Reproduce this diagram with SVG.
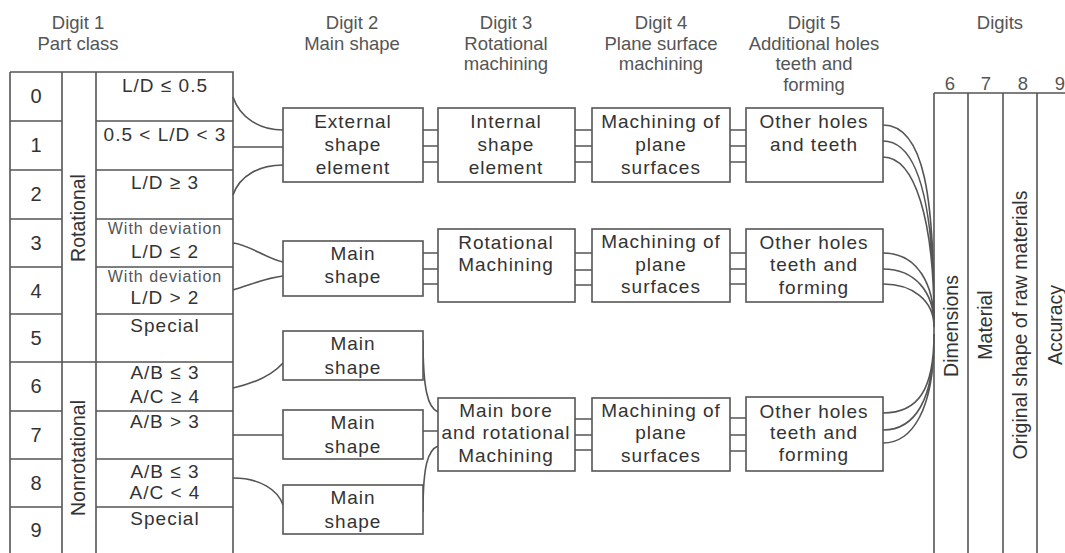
<svg xmlns="http://www.w3.org/2000/svg" width="1065" height="553" viewBox="0 0 1065 553">
<style>
text{font-family:"Liberation Sans",Arial,sans-serif;fill:#333;text-anchor:middle}
.h{font-size:18.5px;fill:#555}
.t{font-size:19px;letter-spacing:1px}
.s{font-size:16px;letter-spacing:1px;fill:#555}
.d{font-size:20px}
.v{font-size:19.5px}
.b{fill:#fff;stroke:#555;stroke-width:1.6}
.l{fill:none;stroke:#555;stroke-width:1.6}
</style>
<rect width="1065" height="553" fill="#fff"/>
<g id="headers">
<text class="h" x="78" y="29">Digit 1</text><text class="h" x="78" y="50">Part class</text>
<text class="h" x="352" y="29">Digit 2</text><text class="h" x="352" y="50">Main shape</text>
<text class="h" x="506" y="29">Digit 3</text><text class="h" x="506" y="50">Rotational</text><text class="h" x="506" y="70">machining</text>
<text class="h" x="661" y="29">Digit 4</text><text class="h" x="661" y="50">Plane surface</text><text class="h" x="661" y="70">machining</text>
<text class="h" x="814" y="29">Digit 5</text><text class="h" x="814" y="50">Additional holes</text><text class="h" x="814" y="70">teeth and</text><text class="h" x="814" y="91">forming</text>
<text class="h" x="1000" y="29">Digits</text>
<text class="h" x="950" y="90">6</text><text class="h" x="986" y="90">7</text><text class="h" x="1023" y="90">8</text><text class="h" x="1060" y="90">9</text>
</g>
<g id="part-class-table">
<path class="l" d="M10,72 H233 V555 M10,72 V555 M62,72 V555 M96,72 V555 M10,121 H62 M10,170 H62 M10,219 H62 M10,267 H62 M10,314 H62 M10,362 H233 M10,411 H62 M10,459 H62 M10,507 H62 M96,121 H233 M96,170 H233 M96,219 H233 M96,267 H233 M96,314 H233 M96,411 H233 M96,459 H233 M96,507 H233"/>
<text class="d" x="36" y="103">0</text><text class="d" x="36" y="152">1</text><text class="d" x="36" y="201">2</text><text class="d" x="36" y="250">3</text><text class="d" x="36" y="298">4</text><text class="d" x="36" y="345">5</text><text class="d" x="36" y="393">6</text><text class="d" x="36" y="442">7</text><text class="d" x="36" y="490">8</text><text class="d" x="36" y="537">9</text>
<text class="v" transform="translate(85,218) rotate(-90)">Rotational</text>
<text class="v" transform="translate(85,458) rotate(-90)">Nonrotational</text>
<text class="t" x="165" y="92">L/D ≤ 0.5</text>
<text class="t" x="165" y="141">0.5 &lt; L/D &lt; 3</text>
<text class="t" x="165" y="189">L/D ≥ 3</text>
<text class="s" x="165" y="234">With deviation</text><text class="t" x="165" y="258">L/D ≤ 2</text>
<text class="s" x="165" y="282">With deviation</text><text class="t" x="165" y="304">L/D &gt; 2</text>
<text class="t" x="165" y="332">Special</text>
<text class="t" x="165" y="379">A/B ≤ 3</text><text class="t" x="165" y="403">A/C ≥ 4</text>
<text class="t" x="165" y="428">A/B &gt; 3</text>
<text class="t" x="165" y="478">A/B ≤ 3</text><text class="t" x="165" y="499">A/C &lt; 4</text>
<text class="t" x="165" y="525">Special</text>
</g>
<g id="connectors">
<path class="l" d="M233,97 C240,118 260,130 283,130 M233,147 H283 M233,195 C240,175 260,165 283,165"/>
<path class="l" d="M233,243 C250,245 265,258 283,262 M233,290 C250,285 265,278 283,276"/>
<path class="l" d="M233,388 C260,382 275,372 283,363 M233,435 H283 M233,478 C260,478 278,490 283,505"/>
<path class="l" d="M423,130 H438 M423,146 H438 M423,162 H438 M575,130 H592 M575,146 H592 M575,162 H592 M730,130 H746 M730,146 H746 M730,162 H746"/>
<path class="l" d="M423,253 H438 M423,269 H438 M423,284 H438 M575,253 H592 M575,270 H592 M575,285 H592 M730,253 H746 M730,269 H746 M730,284 H746"/>
<path class="l" d="M423,340 C423,390 428,408 438,412 M423,431 H438 M423,512 C423,465 428,450 438,446"/>
<path class="l" d="M575,419 H592 M575,435 H592 M575,450 H592 M730,418 H746 M730,435 H746 M730,451 H746"/>
<path class="l" d="M883,125 C925,125 934,200 934,316 M883,141 C920,141 934,210 934,318 M883,157 C915,157 934,220 934,320"/>
<path class="l" d="M883,253 C918,253 934,285 934,323 M883,269 C915,269 934,292 934,325 M883,284 C912,284 934,300 934,327"/>
<path class="l" d="M883,413 C918,413 934,390 934,334 M883,430 C915,430 934,400 934,336 M883,443 C912,443 934,410 934,338"/>
</g>
<g id="n-external"><rect class="b" x="283" y="108" width="140" height="74"/><text class="t" x="353" y="128">External</text><text class="t" x="353" y="151">shape</text><text class="t" x="353" y="174">element</text></g>
<g id="n-main1"><rect class="b" x="283" y="241" width="140" height="55"/><text class="t" x="353" y="260">Main</text><text class="t" x="353" y="283">shape</text></g>
<g id="n-main2"><rect class="b" x="283" y="331" width="140" height="49"/><text class="t" x="353" y="350">Main</text><text class="t" x="353" y="374">shape</text></g>
<g id="n-main3"><rect class="b" x="283" y="410" width="140" height="49"/><text class="t" x="353" y="429">Main</text><text class="t" x="353" y="453">shape</text></g>
<g id="n-main4"><rect class="b" x="283" y="485" width="140" height="49"/><text class="t" x="353" y="504">Main</text><text class="t" x="353" y="528">shape</text></g>
<g id="n-internal"><rect class="b" x="438" y="108" width="137" height="74"/><text class="t" x="506" y="128">Internal</text><text class="t" x="506" y="151">shape</text><text class="t" x="506" y="174">element</text></g>
<g id="n-rotational"><rect class="b" x="438" y="229" width="137" height="73"/><text class="t" x="506" y="249">Rotational</text><text class="t" x="506" y="271">Machining</text></g>
<g id="n-mainbore"><rect class="b" x="438" y="398" width="137" height="73"/><text class="t" x="506" y="417">Main bore</text><text class="t" x="506" y="439">and rotational</text><text class="t" x="506" y="462">Machining</text></g>
<g id="n-plane1"><rect class="b" x="592" y="108" width="138" height="74"/><text class="t" x="661" y="128">Machining of</text><text class="t" x="661" y="151">plane</text><text class="t" x="661" y="174">surfaces</text></g>
<g id="n-plane2"><rect class="b" x="592" y="229" width="138" height="73"/><text class="t" x="661" y="248">Machining of</text><text class="t" x="661" y="271">plane</text><text class="t" x="661" y="293">surfaces</text></g>
<g id="n-plane3"><rect class="b" x="592" y="398" width="138" height="73"/><text class="t" x="661" y="417">Machining of</text><text class="t" x="661" y="439">plane</text><text class="t" x="661" y="462">surfaces</text></g>
<g id="n-holes1"><rect class="b" x="746" y="108" width="137" height="74"/><text class="t" x="814" y="128">Other holes</text><text class="t" x="814" y="151">and teeth</text></g>
<g id="n-holes2"><rect class="b" x="746" y="229" width="137" height="73"/><text class="t" x="814" y="249">Other holes</text><text class="t" x="814" y="271">teeth and</text><text class="t" x="814" y="294">forming</text></g>
<g id="n-holes3"><rect class="b" x="746" y="397" width="137" height="74"/><text class="t" x="814" y="418">Other holes</text><text class="t" x="814" y="439">teeth and</text><text class="t" x="814" y="461">forming</text></g>
<g id="digits-6-9">
<path class="l" d="M934,93 H1066 M934,93 V555 M968,93 V555 M1003,93 V555 M1037,93 V555"/>
<text class="v" transform="translate(958,326) rotate(-90)">Dimensions</text>
<text class="v" transform="translate(992,325) rotate(-90)">Material</text>
<text class="v" transform="translate(1027,325) rotate(-90)">Original shape of raw materials</text>
<text class="v" transform="translate(1062,325) rotate(-90)">Accuracy</text>
</g>
</svg>
